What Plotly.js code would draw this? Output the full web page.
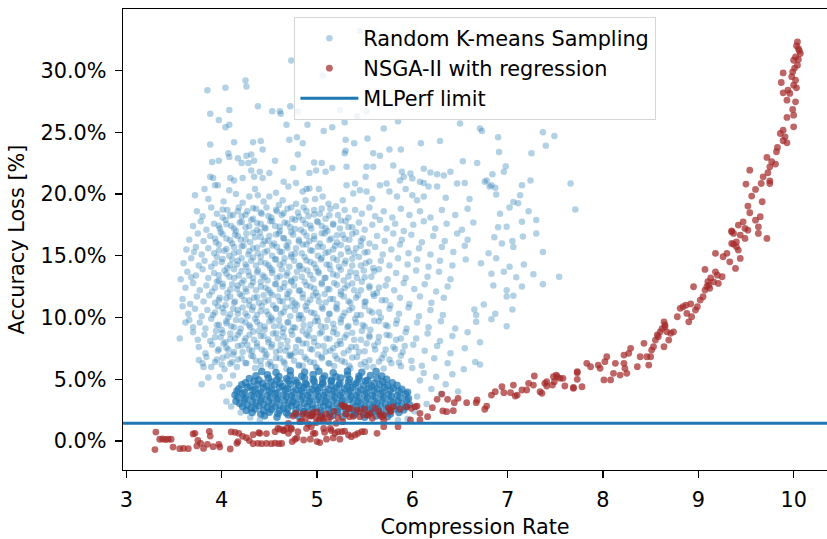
<!DOCTYPE html>
<html><head><meta charset="utf-8">
<script src="https://cdn.plot.ly/plotly-3.0.1.min.js"></script>
<style>html,body{margin:0;padding:0;background:#fff}#chart{width:827px;height:539px}</style>
</head><body><div id="chart"></div>
<script>
// Random K-means Sampling: sparse upper part (y >= ~19)
const kmeansUpper = [
[4.73,30.8],[5.45,33.2],[5.06,29.6],[4.25,29.2],[4.26,28.7],[4.04,28.6],[3.85,28.4],[5.38,27.7],[4.38,27.1],[4.72,27.1],
[4.08,26.8],[5.24,26.8],[4.53,26.7],[5.52,26.7],[4.61,26.7],[4.80,26.65],[4.62,26.5],[3.88,26.5],[5.42,26.3],[3.97,26.0],
[5.85,25.9],[5.29,25.8],[6.50,25.7],[4.04,25.4],[4.08,25.6],[4.68,25.6],[4.90,25.6],[6.71,25.3],[5.70,25.3],[5.07,25.1],
[5.16,25.4],[6.73,25.1],[7.37,25.0],[7.49,24.7],[6.90,24.6],[4.79,24.6],[5.53,24.5],[4.71,24.4],[5.30,24.4],[6.29,24.3],
[4.41,24.3],[4.13,24.2],[4.33,24.2],[4.85,24.1],[5.39,24.1],[6.09,24.1],[3.88,24.0],[7.40,23.9],[4.43,23.6],[5.88,23.6],
[5.76,23.6],[5.30,23.5],[6.91,23.4],[5.29,23.3],[7.25,23.3],[4.07,23.3],[5.59,23.3],[4.80,23.2],[4.31,23.2],[5.66,23.1],
[4.26,23.1],[4.08,23.0],[4.17,22.9],[4.34,22.7],[4.56,22.7],[3.97,22.7],[6.53,22.65],[3.90,22.6],[4.97,22.55],[6.68,22.5],
[4.28,22.5],[4.21,22.5],[5.05,22.5],[5.80,22.3],[6.98,22.25],[5.31,22.2],[5.52,22.2],[5.59,22.2],[4.75,22.1],[5.16,22.1],
[6.12,22.05],[4.99,21.9],[4.31,21.9],[5.89,21.8],[6.96,21.8],[5.09,21.8],[4.40,21.8],[6.40,21.8],[6.19,21.75],[4.92,21.7],
[4.50,21.7],[5.98,21.65],[6.84,21.6],[6.26,21.6],[6.33,21.5],[5.51,21.4],[3.88,21.4],[4.34,21.4],[5.91,21.4],[3.91,21.3],
[4.09,21.3],[4.22,21.3],[4.43,21.3],[6.00,21.25],[4.13,21.1],[5.87,21.1],[6.78,21.1],[7.24,21.1],[4.65,21.0],[6.08,21.0],
[6.76,21.0],[4.78,20.9],[6.55,20.9],[7.66,20.85],[6.47,20.85],[7.15,20.7],[6.81,20.6],[4.89,20.4],[7.71,18.75],
[3.72,19.9],[3.82,20.4],[3.93,20.7],[3.96,20.7],[4.15,20.0],[4.29,19.8],[4.38,19.9],[4.50,19.8],[4.64,19.5],[4.78,19.2],
[4.85,20.2],[4.92,20.45],[5.06,19.8],[5.12,19.2],[5.20,19.0],[5.27,19.5],[5.38,20.05],[5.31,20.7],[5.40,20.85],[5.45,20.3],
[5.52,20.2],[5.66,20.7],[5.73,20.85],[5.76,20.2],[5.84,19.8],[6.00,19.9],[6.05,19.5],[6.12,19.8],[6.12,20.9],[6.17,20.6],
[6.26,20.6],[6.83,20.7],[6.87,20.5],[6.88,19.95],[7.13,19.9],[7.06,19.35],[7.11,19.25],[3.86,19.6],[4.02,19.4],[4.08,20.3],
[4.22,19.3],[4.35,20.4],[4.44,19.4],[4.57,20.1],[4.70,20.6],[4.98,19.6],[5.02,20.4],[5.58,19.6],[5.93,20.4],[6.35,19.7],
[6.60,19.6],[4.60,19.1],[4.88,19.5]
];
// Random K-means Sampling: middle part (y ~10 to 19)
const kmeansMid = [
[3.74,18.6],[3.80,18.2],[3.89,18.9],[3.95,18.4],[4.01,18.1],[4.06,18.7],[4.12,18.3],[4.18,18.9],[4.21,18.2],[4.27,18.6],
[4.33,18.0],[4.36,18.8],[4.42,18.4],[4.47,18.9],[4.52,18.1],[4.58,18.6],[4.63,18.3],[4.69,18.8],[4.74,18.0],[4.80,18.5],
[4.86,18.9],[4.91,18.2],[4.97,18.7],[5.03,18.4],[5.09,18.0],[5.14,18.8],[5.22,18.3],[5.29,18.7],[5.33,18.1],[5.40,18.7],
[5.47,18.4],[5.55,18.9],[5.61,18.2],[5.70,18.6],[5.79,18.1],[5.88,18.8],[5.97,18.3],[6.08,18.6],[6.19,18.1],[6.31,18.7],
[6.45,18.3],[6.58,18.8],[6.92,18.4],[7.02,18.9],[7.22,18.6],[7.30,17.9],
[3.70,17.4],[3.78,17.8],[3.84,17.1],[3.92,17.6],[3.98,17.2],[4.04,17.9],[4.10,17.4],[4.15,17.0],[4.19,17.7],[4.25,17.3],
[4.31,17.9],[4.37,17.1],[4.41,17.6],[4.46,17.2],[4.51,17.8],[4.56,17.4],[4.61,17.0],[4.66,17.7],[4.72,17.3],[4.77,17.9],
[4.83,17.1],[4.88,17.6],[4.94,17.2],[5.00,17.8],[5.05,17.4],[5.11,17.0],[5.17,17.6],[5.24,17.2],[5.30,17.8],[5.37,17.3],
[5.44,17.7],[5.50,17.1],[5.58,17.5],[5.66,17.9],[5.73,17.2],[5.82,17.6],[5.91,17.0],[6.01,17.5],[6.12,17.8],[6.24,17.2],
[6.36,17.6],[6.52,17.1],[6.64,17.7],[6.90,17.3],[7.15,17.75],[6.99,17.35],
[3.66,16.3],[3.75,16.8],[3.81,16.2],[3.88,16.6],[3.94,16.1],[3.99,16.9],[4.05,16.4],[4.11,16.0],[4.14,16.7],[4.20,16.3],
[4.26,16.8],[4.30,16.1],[4.35,16.5],[4.40,16.9],[4.45,16.2],[4.50,16.6],[4.55,16.0],[4.60,16.8],[4.65,16.4],[4.70,16.1],
[4.75,16.7],[4.81,16.3],[4.86,16.9],[4.92,16.2],[4.97,16.6],[5.03,16.0],[5.08,16.8],[5.15,16.4],[5.21,16.1],[5.27,16.7],
[5.34,16.3],[5.41,16.9],[5.48,16.4],[5.55,16.0],[5.63,16.6],[5.71,16.2],[5.80,16.8],[5.89,16.3],[5.99,16.7],[6.10,16.1],
[6.22,16.6],[6.34,16.2],[6.47,16.8],[6.58,16.3],[6.86,16.5],[7.16,16.55],[7.30,16.8],[7.05,16.2],
[3.63,15.5],[3.71,15.3],[3.73,15.7],[3.79,15.1],[3.86,15.6],[3.92,15.2],[3.97,15.9],[4.03,15.4],[4.08,15.0],[4.13,15.7],
[4.18,15.3],[4.23,15.8],[4.28,15.1],[4.33,15.6],[4.38,15.2],[4.43,15.9],[4.48,15.4],[4.53,15.0],[4.58,15.7],[4.63,15.3],
[4.68,15.8],[4.73,15.1],[4.78,15.6],[4.84,15.2],[4.89,15.9],[4.95,15.4],[5.01,15.0],[5.06,15.7],[5.12,15.3],[5.19,15.8],
[5.25,15.1],[5.32,15.6],[5.39,15.2],[5.46,15.8],[5.53,15.3],[5.61,15.7],[5.69,15.1],[5.78,15.5],[5.87,15.9],[5.96,15.2],
[6.07,15.6],[6.19,15.1],[6.31,15.7],[6.43,15.3],[6.55,15.8],[6.94,16.0],[7.06,15.7],[7.37,15.3],[6.80,15.2],
[3.60,14.4],[3.68,14.8],[3.76,14.2],[3.82,14.6],[3.89,14.1],[3.95,14.9],[4.00,14.5],[4.06,14.0],[4.11,14.7],[4.16,14.3],
[4.21,14.8],[4.26,14.1],[4.31,14.6],[4.36,14.2],[4.41,14.9],[4.46,14.4],[4.51,14.0],[4.56,14.7],[4.61,14.3],[4.66,14.8],
[4.71,14.1],[4.76,14.6],[4.82,14.2],[4.87,14.9],[4.93,14.5],[4.99,14.0],[5.04,14.7],[5.10,14.3],[5.17,14.8],[5.23,14.1],
[5.30,14.6],[5.37,14.2],[5.44,14.9],[5.51,14.4],[5.59,14.0],[5.67,14.6],[5.76,14.2],[5.85,14.8],[5.95,14.3],[6.05,14.7],
[6.17,14.1],[6.29,14.6],[6.42,14.2],[6.56,14.7],[6.72,14.4],[6.88,14.8],[7.17,14.3],[7.02,14.1],
[3.57,13.1],[3.68,13.25],[3.64,13.7],[3.73,13.4],[3.80,13.9],[3.86,13.2],[3.92,13.6],[3.97,13.0],[4.03,13.8],[4.08,13.3],
[4.13,13.9],[4.18,13.4],[4.23,13.0],[4.28,13.7],[4.33,13.2],[4.38,13.8],[4.43,13.4],[4.48,13.0],[4.53,13.6],[4.58,13.2],
[4.63,13.9],[4.68,13.4],[4.73,13.0],[4.79,13.7],[4.84,13.3],[4.90,13.8],[4.96,13.1],[5.02,13.6],[5.08,13.2],[5.14,13.9],
[5.21,13.4],[5.28,13.0],[5.35,13.7],[5.42,13.2],[5.49,13.8],[5.57,13.3],[5.65,13.9],[5.74,13.1],[5.83,13.6],[5.93,13.2],
[6.04,13.8],[6.16,13.3],[6.28,13.7],[6.40,13.1],[6.96,13.7],[6.83,13.55],[7.09,13.25],[7.27,13.5],[7.54,13.3],
[3.62,12.4],[3.70,12.8],[3.77,12.2],[3.84,12.6],[3.90,12.1],[3.95,12.9],[4.01,12.5],[4.06,12.0],[4.11,12.7],[4.16,12.3],
[4.21,12.8],[4.26,12.1],[4.31,12.6],[4.36,12.2],[4.41,12.9],[4.46,12.4],[4.51,12.0],[4.56,12.7],[4.61,12.3],[4.66,12.8],
[4.71,12.1],[4.76,12.6],[4.82,12.2],[4.87,12.9],[4.93,12.5],[4.99,12.0],[5.05,12.7],[5.11,12.3],[5.18,12.8],[5.25,12.1],
[5.32,12.6],[5.39,12.2],[5.47,12.9],[5.55,12.4],[5.63,12.0],[5.72,12.6],[5.81,12.2],[5.91,12.8],[6.02,12.3],[6.13,12.7],
[6.25,12.1],[6.37,12.5],[6.85,12.6],[7.15,12.5],[7.37,12.7],[6.99,12.2],
[3.59,11.5],[3.67,11.1],[3.74,11.7],[3.81,11.3],[3.87,11.8],[3.93,11.2],[3.98,11.6],[4.04,11.0],[4.09,11.7],[4.14,11.3],
[4.19,11.9],[4.24,11.4],[4.29,11.0],[4.34,11.6],[4.39,11.2],[4.44,11.8],[4.49,11.4],[4.54,11.0],[4.59,11.7],[4.64,11.3],
[4.69,11.9],[4.74,11.4],[4.79,11.0],[4.85,11.6],[4.90,11.2],[4.96,11.8],[5.02,11.3],[5.08,11.9],[5.14,11.5],[5.21,11.1],
[5.28,11.7],[5.35,11.2],[5.43,11.8],[5.51,11.3],[5.59,11.9],[5.68,11.4],[5.77,11.0],[5.87,11.6],[5.97,11.1],[6.08,11.7],
[6.20,11.2],[6.33,11.6],[6.99,11.7],[7.06,11.75],[6.75,11.05],
[3.59,10.9],[3.65,10.3],[3.72,10.7],[3.79,10.1],[3.85,10.6],[3.91,10.2],[3.96,10.9],[4.02,10.4],[4.07,10.0],[4.12,10.7],
[4.17,10.3],[4.22,10.8],[4.27,10.1],[4.32,10.6],[4.37,10.2],[4.42,10.9],[4.47,10.5],[4.52,10.0],[4.57,10.7],[4.62,10.3],
[4.67,10.8],[4.72,10.1],[4.77,10.6],[4.83,10.2],[4.88,10.9],[4.94,10.4],[5.00,10.0],[5.06,10.7],[5.13,10.3],[5.20,10.8],
[5.27,10.1],[5.34,10.6],[5.42,10.2],[5.50,10.9],[5.58,10.4],[5.67,10.0],[5.76,10.7],[5.86,10.3],[5.96,10.8],[6.07,10.1],
[6.19,10.6],[6.32,10.2],[6.65,10.65],[6.67,10.2],[6.87,10.3],[7.05,10.65]
];
// Random K-means Sampling: extra points in the denser centre of the cloud (y ~6 to 19)
const kmeansDense = [
[3.93,6.40],[4.01,6.74],[4.09,6.26],[4.17,6.60],[4.25,6.32],[4.33,6.86],[4.41,6.50],[4.49,6.22],[4.57,6.72],[4.65,6.44],[4.73,6.90],[4.81,6.16],[4.89,6.62],[4.97,6.34],[5.05,6.82],[5.13,6.28],[5.21,6.66],[5.29,6.38],[5.37,6.76],[5.46,6.20],[5.55,6.54],[5.65,6.42],[5.76,6.60],[5.86,6.35],
[3.97,7.42],[4.05,7.54],[4.13,7.20],[4.21,7.76],[4.29,7.38],[4.37,7.66],[4.45,7.28],[4.53,7.82],[4.61,7.34],[4.69,7.62],[4.77,7.16],[4.85,7.90],[4.93,7.44],[5.01,7.72],[5.09,7.22],[5.17,7.50],[5.25,7.86],[5.33,7.32],[5.41,7.60],[5.50,7.26],[5.60,7.74],[5.72,7.40],[5.82,7.45],[5.92,7.70],
[3.93,8.40],[4.01,8.74],[4.09,8.26],[4.17,8.60],[4.25,8.32],[4.33,8.86],[4.41,8.50],[4.49,8.22],[4.57,8.72],[4.65,8.44],[4.73,8.90],[4.81,8.16],[4.89,8.62],[4.97,8.34],[5.05,8.82],[5.13,8.28],[5.21,8.66],[5.29,8.38],[5.37,8.76],[5.46,8.20],[5.55,8.54],[5.65,8.42],[5.76,8.55],[5.88,8.30],
[3.97,9.42],[4.05,9.54],[4.13,9.20],[4.21,9.76],[4.29,9.38],[4.37,9.66],[4.45,9.28],[4.53,9.82],[4.61,9.34],[4.69,9.62],[4.77,9.16],[4.85,9.90],[4.93,9.44],[5.01,9.72],[5.09,9.22],[5.17,9.50],[5.25,9.86],[5.33,9.32],[5.41,9.60],[5.50,9.26],[5.60,9.74],[5.72,9.40],[5.83,9.50],
[3.93,10.40],[4.01,10.74],[4.09,10.26],[4.17,10.60],[4.25,10.32],[4.33,10.86],[4.41,10.50],[4.49,10.22],[4.57,10.72],[4.65,10.44],[4.73,10.90],[4.81,10.16],[4.89,10.62],[4.97,10.34],[5.05,10.82],[5.13,10.28],[5.21,10.66],[5.29,10.38],[5.37,10.76],[5.46,10.20],[5.55,10.54],[5.65,10.42],
[3.97,11.42],[4.05,11.54],[4.13,11.20],[4.21,11.76],[4.29,11.38],[4.37,11.66],[4.45,11.28],[4.53,11.82],[4.61,11.34],[4.69,11.62],[4.77,11.16],[4.85,11.90],[4.93,11.44],[5.01,11.72],[5.09,11.22],[5.17,11.50],[5.25,11.86],[5.33,11.32],[5.41,11.60],[5.50,11.26],[5.60,11.74],[5.72,11.40],
[3.93,12.40],[4.01,12.74],[4.09,12.26],[4.17,12.60],[4.25,12.32],[4.33,12.86],[4.41,12.50],[4.49,12.22],[4.57,12.72],[4.65,12.44],[4.73,12.90],[4.81,12.16],[4.89,12.62],[4.97,12.34],[5.05,12.82],[5.13,12.28],[5.21,12.66],[5.29,12.38],[5.37,12.76],[5.46,12.20],[5.55,12.54],[5.65,12.42],
[3.97,13.42],[4.05,13.54],[4.13,13.20],[4.21,13.76],[4.29,13.38],[4.37,13.66],[4.45,13.28],[4.53,13.82],[4.61,13.34],[4.69,13.62],[4.77,13.16],[4.85,13.90],[4.93,13.44],[5.01,13.72],[5.09,13.22],[5.17,13.50],[5.25,13.86],[5.33,13.32],[5.41,13.60],[5.50,13.26],[5.60,13.74],
[3.93,14.40],[4.01,14.74],[4.09,14.26],[4.17,14.60],[4.25,14.32],[4.33,14.86],[4.41,14.50],[4.49,14.22],[4.57,14.72],[4.65,14.44],[4.73,14.90],[4.81,14.16],[4.89,14.62],[4.97,14.34],[5.05,14.82],[5.13,14.28],[5.21,14.66],[5.29,14.38],[5.37,14.76],[5.46,14.20],[5.55,14.54],
[3.97,15.42],[4.05,15.54],[4.13,15.20],[4.21,15.76],[4.29,15.38],[4.37,15.66],[4.45,15.28],[4.53,15.82],[4.61,15.34],[4.69,15.62],[4.77,15.16],[4.85,15.90],[4.93,15.44],[5.01,15.72],[5.09,15.22],[5.17,15.50],[5.25,15.86],[5.33,15.32],[5.41,15.60],[5.50,15.26],
[3.93,16.40],[4.01,16.74],[4.09,16.26],[4.17,16.60],[4.25,16.32],[4.33,16.86],[4.41,16.50],[4.49,16.22],[4.57,16.72],[4.65,16.44],[4.73,16.90],[4.81,16.16],[4.89,16.62],[4.97,16.34],[5.05,16.82],[5.13,16.28],[5.21,16.66],[5.29,16.38],[5.37,16.76],[5.46,16.20],
[3.97,17.42],[4.05,17.54],[4.13,17.20],[4.21,17.76],[4.29,17.38],[4.37,17.66],[4.45,17.28],[4.53,17.82],[4.61,17.34],[4.69,17.62],[4.77,17.16],[4.85,17.90],[4.93,17.44],[5.01,17.72],[5.09,17.22],[5.17,17.50],[5.25,17.86],[5.33,17.32],
[4.01,18.74],[4.09,18.26],[4.17,18.60],[4.25,18.32],[4.33,18.86],[4.41,18.50],[4.49,18.22],[4.57,18.72],[4.65,18.44],[4.73,18.90],[4.81,18.16],[4.89,18.62],[4.97,18.34],[5.05,18.82],[5.13,18.28]
];
// Random K-means Sampling: lower part (y ~1.7 to 10), outside the dense core
const kmeansLow = [
[3.66,9.8],[3.70,9.2],[3.77,9.6],[3.83,9.1],[3.89,9.9],[3.95,9.4],[4.00,9.0],[4.05,9.7],[4.10,9.3],[4.15,9.8],
[4.20,9.1],[4.25,9.6],[4.30,9.2],[4.35,9.9],[4.40,9.4],[4.45,9.0],[4.50,9.7],[4.55,9.3],[4.60,9.8],[4.65,9.1],
[4.70,9.6],[4.75,9.2],[4.81,9.9],[4.86,9.4],[4.92,9.0],[4.98,9.7],[5.04,9.3],[5.11,9.8],[5.18,9.1],[5.25,9.6],
[5.32,9.2],[5.40,9.9],[5.48,9.4],[5.56,9.0],[5.65,9.7],[5.74,9.3],[5.84,9.8],[5.94,9.1],[6.05,9.6],[6.17,9.2],
[6.30,9.7],[6.67,9.65],[6.83,9.85],[6.99,9.3],[6.45,9.1],
[3.56,8.3],[3.70,8.8],[3.75,8.2],[3.82,8.6],[3.88,8.1],[3.94,8.9],[3.99,8.4],[4.04,8.0],[4.09,8.7],[4.14,8.3],
[4.19,8.8],[4.24,8.1],[4.29,8.6],[4.34,8.2],[4.39,8.9],[4.44,8.5],[4.49,8.0],[4.54,8.7],[4.59,8.3],[4.64,8.8],
[4.69,8.1],[4.74,8.6],[4.80,8.2],[4.85,8.9],[4.91,8.5],[4.97,8.0],[5.03,8.7],[5.10,8.3],[5.17,8.8],[5.24,8.1],
[5.31,8.6],[5.39,8.2],[5.47,8.9],[5.55,8.4],[5.64,8.0],[5.73,8.6],[5.83,8.2],[5.93,8.8],[6.04,8.3],[6.16,8.7],
[6.29,8.1],[6.42,8.5],[6.58,8.8],[6.71,8.0],
[3.76,7.6],[3.83,7.1],[3.90,7.8],[3.96,7.3],[4.02,7.9],[4.07,7.4],[4.12,7.0],[4.17,7.7],[4.22,7.2],[4.27,7.8],
[4.32,7.3],[4.37,7.9],[4.42,7.4],[4.47,7.0],[4.52,7.6],[4.57,7.2],[4.62,7.8],[4.67,7.3],[4.72,7.0],[4.78,7.6],
[4.83,7.2],[4.89,7.9],[4.95,7.4],[5.01,7.0],[5.07,7.7],[5.14,7.3],[5.21,7.8],[5.28,7.1],[5.36,7.6],[5.44,7.2],
[5.52,7.9],[5.61,7.4],[5.70,7.0],[5.80,7.6],[5.90,7.2],[6.01,7.8],[6.13,7.3],[6.26,7.7],[6.40,7.1],[6.55,7.5],
[3.76,6.55],[3.84,6.8],[3.80,6.3],[3.89,6.0],[3.95,6.6],[4.00,6.2],[4.06,6.9],[4.11,6.4],[4.16,6.0],[4.21,6.7],
[4.26,6.3],[4.31,6.9],[4.36,6.5],[4.41,6.1],[4.46,6.8],[4.51,6.4],[4.56,6.0],[4.61,6.7],[4.66,6.3],[4.71,6.9],
[4.76,6.5],[4.81,6.1],[4.87,6.8],[4.93,6.4],[4.99,6.0],[5.05,6.7],[5.12,6.3],[5.19,6.9],[5.26,6.5],[5.34,6.1],
[5.42,6.8],[5.50,6.4],[5.59,6.0],[5.68,6.7],[5.78,6.3],[5.88,6.9],[5.99,6.5],[6.10,6.1],[6.23,6.7],[6.37,6.3],
[6.54,5.8],[6.66,6.4],[6.71,6.2],
[3.79,4.6],[3.81,6.0],[3.86,5.15],[3.98,5.2],[4.01,4.4],[3.62,9.6],[4.05,3.2],[4.08,4.6],[4.10,2.8],[4.12,5.3],
[4.03,5.8],[6.02,2.4],[6.05,3.6],[6.08,4.9],[6.12,5.5],[6.15,3.0],[6.20,4.2],[6.00,5.9],[6.25,5.2],[4.30,1.9],
[4.40,1.7],[5.95,1.8],[5.85,1.7],[4.20,2.3],[6.30,3.8],[6.35,4.6],[6.42,5.4],[6.48,4.0],
[4.35,5.90],[4.52,6.05],[4.68,5.85],[4.85,6.10],[5.00,5.92],[5.18,6.08],[5.35,5.88],[5.52,6.02],[5.70,5.86],[5.88,6.05]
];
// Random K-means Sampling: dense core
const kmeansCore = [
[4.45,2.05],[4.58,1.93],[4.70,2.10],[4.81,1.98],[4.93,2.07],[5.04,1.90],[5.16,2.04],[5.27,1.96],[5.39,2.11],[5.50,1.92],[5.62,2.03],[5.74,1.97],
[4.32,2.30],[4.41,2.18],[4.50,2.33],[4.59,2.21],[4.68,2.27],[4.77,2.16],[4.86,2.35],[4.95,2.22],[5.04,2.29],[5.13,2.17],[5.22,2.34],[5.31,2.20],[5.40,2.28],[5.49,2.15],[5.58,2.32],[5.67,2.24],[5.77,2.19],[5.86,2.31],
[4.26,2.47],[4.35,2.58],[4.44,2.42],[4.52,2.55],[4.61,2.44],[4.69,2.60],[4.78,2.49],[4.87,2.41],[4.95,2.57],[5.04,2.46],[5.12,2.59],[5.21,2.43],[5.30,2.54],[5.38,2.48],[5.47,2.61],[5.55,2.40],[5.64,2.53],[5.73,2.45],[5.82,2.58],[5.91,2.50],
[4.22,2.80],[4.31,2.68],[4.39,2.83],[4.48,2.71],[4.56,2.78],[4.65,2.66],[4.73,2.85],[4.82,2.72],[4.90,2.79],[4.99,2.67],[5.07,2.84],[5.16,2.70],[5.24,2.77],[5.33,2.65],[5.41,2.82],[5.50,2.74],[5.58,2.69],[5.67,2.81],[5.75,2.73],[5.84,2.86],[5.93,2.76],
[4.19,3.04],[4.27,2.92],[4.36,3.08],[4.44,2.95],[4.53,3.02],[4.61,2.90],[4.70,3.10],[4.78,2.97],[4.87,3.05],[4.95,2.93],[5.04,3.09],[5.12,2.96],[5.21,3.03],[5.29,2.91],[5.38,3.07],[5.46,2.99],[5.55,2.94],[5.63,3.06],[5.72,2.98],[5.80,3.11],[5.89,3.01],[5.97,2.93],
[4.15,3.22],[4.24,3.33],[4.32,3.18],[4.41,3.30],[4.49,3.20],[4.58,3.35],[4.66,3.24],[4.75,3.16],[4.83,3.32],[4.92,3.21],[5.00,3.34],[5.09,3.19],[5.17,3.28],[5.26,3.23],[5.34,3.36],[5.43,3.17],[5.51,3.29],[5.60,3.20],[5.68,3.33],[5.77,3.26],[5.85,3.19],[5.94,3.31],
[4.17,3.55],[4.25,3.43],[4.34,3.58],[4.42,3.46],[4.51,3.53],[4.59,3.41],[4.68,3.60],[4.76,3.48],[4.85,3.56],[4.93,3.44],[5.02,3.59],[5.10,3.47],[5.19,3.54],[5.27,3.42],[5.36,3.57],[5.44,3.50],[5.53,3.45],[5.61,3.58],[5.70,3.49],[5.78,3.61],[5.87,3.52],[5.96,3.44],
[4.14,3.72],[4.22,3.83],[4.31,3.68],[4.39,3.80],[4.48,3.70],[4.56,3.85],[4.65,3.74],[4.73,3.66],[4.82,3.82],[4.90,3.71],[4.99,3.84],[5.07,3.69],[5.16,3.78],[5.24,3.73],[5.33,3.86],[5.41,3.67],[5.50,3.79],[5.58,3.70],[5.67,3.83],[5.75,3.76],[5.84,3.69],[5.93,3.81],
[4.16,4.05],[4.24,3.93],[4.33,4.08],[4.41,3.96],[4.50,4.03],[4.58,3.91],[4.67,4.10],[4.75,3.98],[4.84,4.06],[4.92,3.94],[5.01,4.09],[5.09,3.97],[5.18,4.04],[5.26,3.92],[5.35,4.07],[5.43,4.00],[5.52,3.95],[5.60,4.08],[5.69,3.99],[5.77,4.11],[5.86,4.02],[5.95,3.94],
[4.18,4.22],[4.27,4.33],[4.35,4.18],[4.44,4.30],[4.52,4.20],[4.61,4.35],[4.69,4.24],[4.78,4.16],[4.86,4.32],[4.95,4.21],[5.03,4.34],[5.12,4.19],[5.20,4.28],[5.29,4.23],[5.37,4.36],[5.46,4.17],[5.54,4.29],[5.63,4.20],[5.71,4.33],[5.80,4.26],[5.89,4.19],
[4.21,4.55],[4.30,4.43],[4.38,4.58],[4.47,4.46],[4.55,4.53],[4.64,4.41],[4.72,4.60],[4.81,4.48],[4.89,4.56],[4.98,4.44],[5.06,4.59],[5.15,4.47],[5.23,4.54],[5.32,4.42],[5.40,4.57],[5.49,4.50],[5.57,4.45],[5.66,4.58],[5.74,4.49],[5.84,4.52],
[4.25,4.72],[4.34,4.83],[4.43,4.68],[4.52,4.80],[4.61,4.70],[4.70,4.85],[4.79,4.74],[4.88,4.66],[4.97,4.82],[5.06,4.71],[5.15,4.84],[5.24,4.69],[5.33,4.78],[5.42,4.73],[5.51,4.86],[5.60,4.67],[5.69,4.79],[5.79,4.72],
[4.29,5.05],[4.39,4.93],[4.49,5.08],[4.58,4.96],[4.68,5.03],[4.77,4.91],[4.87,5.10],[4.96,4.98],[5.06,5.06],[5.15,4.94],[5.25,5.09],[5.34,4.97],[5.44,5.04],[5.53,4.92],[5.63,5.07],[5.73,5.00],
[4.36,5.28],[4.48,5.36],[4.60,5.22],[4.72,5.33],[4.84,5.25],[4.96,5.38],[5.08,5.27],[5.20,5.21],[5.32,5.35],[5.44,5.24],[5.56,5.31],[5.68,5.26],
[4.42,5.62],[4.57,5.55],[4.72,5.68],[4.87,5.58],[5.02,5.65],[5.17,5.52],[5.32,5.66],[5.47,5.57],[5.62,5.63]
];
// NSGA-II with regression
const nsgaLow = [
[3.31,0.72],[3.30,-0.70],[3.35,0.14],[3.38,0.16],[3.41,0.12],[3.44,0.15],[3.47,0.14],[3.49,-0.49],[3.56,-0.62],[3.60,-0.60],
[3.65,-0.62],[3.70,0.57],[3.72,0.62],[3.74,-0.40],[3.75,0.05],[3.78,-0.19],[3.81,-0.60],[3.85,-0.27],[3.87,0.78],[3.88,0.40],
[3.91,-0.46],[3.97,-0.27],[3.98,-0.49],[4.09,-0.65],[4.10,0.73],[4.14,0.70],[4.18,0.62],[4.22,0.38],[4.26,0.27],[4.16,-0.19],
[4.17,-0.05],[4.29,0.03],[4.33,0.51],[4.39,0.67],[4.47,0.60],[4.40,0.62],[4.33,-0.22],[4.38,-0.19],[4.42,-0.22],[4.47,-0.20],
[4.52,-0.22],[4.56,-0.18],[4.60,-0.22],[4.63,-0.20],[4.56,0.75],[4.59,1.02],[4.65,0.83],[4.68,1.02],[4.61,0.95],[4.70,0.62],
[4.73,1.03],[4.74,-0.05],[4.77,0.14],[4.79,0.25],[4.86,0.08],[4.93,0.15],[4.96,0.62],[5.00,-0.05],[5.03,-0.13],[5.07,1.02],
[5.14,1.02],[5.19,0.62],[5.10,0.15],[5.17,0.25],[5.24,0.15],[5.22,0.75],[5.26,0.75],[5.33,0.49],[5.36,0.35],[5.43,0.62],
[5.47,0.75],[5.50,0.75],[5.63,0.62],[5.40,0.49],[5.70,1.16],[5.85,1.16],
[4.70,1.43],[4.82,1.56],[4.91,1.38],[4.99,1.48],[5.06,1.75],[5.12,1.59],[5.20,1.43],[5.27,1.56],[5.34,1.97],[4.65,0.89],
[4.73,0.95],[4.80,0.75],[4.89,1.02],[4.94,1.16],[4.98,0.62],[5.08,0.70],[5.15,0.85],[5.29,0.80],
[4.75,2.02],[4.78,2.25],[4.85,2.18],[4.89,2.24],[4.94,2.02],[4.95,2.10],[4.99,1.92],[5.05,2.02],[5.07,1.84],[5.14,1.97],
[5.26,2.91],[5.29,2.78],[5.28,2.83],[5.33,2.64],[5.35,2.64],[5.42,2.51],[5.45,2.37],[5.50,2.57],[5.56,2.24],[5.61,2.65],
[5.65,2.37],[5.70,2.10],[5.75,2.65],[5.80,2.78],[5.87,2.57],[5.94,2.78],[5.99,2.65],[6.05,2.83],[6.08,2.24],[6.16,1.97],
[5.98,1.70],[6.08,1.70],[5.45,1.97],[5.52,2.10],[5.58,1.84],[5.68,1.97],[5.77,2.37],[5.54,2.10],[5.66,2.10],[5.70,1.70],
[5.77,2.51],[6.03,2.78],[4.88,1.85],[4.96,2.30],[5.02,1.70],[5.10,2.20],[5.18,2.40],[5.22,1.90],[5.30,2.20],[5.38,2.00],
[4.84,1.60],[5.00,2.35]
];
const nsgaMid = [
[6.21,2.70],[6.26,3.37],[6.31,3.80],[6.32,2.43],[6.36,2.37],[6.37,3.37],[6.43,2.45],[6.44,3.10],[6.48,3.45],[6.57,3.10],
[6.68,3.32],[6.67,3.10],[6.76,2.57],[6.78,2.83],[6.83,3.72],[6.87,3.99],[6.94,4.39],[6.96,3.91],[7.03,3.91],[7.06,4.53],
[7.08,3.64],[7.10,3.72],[7.15,4.13],[7.20,4.13],[7.22,4.67],[7.27,4.53],[7.28,5.26],[7.34,3.99],[7.36,3.86],[7.39,4.67],
[7.41,4.45],[7.41,4.80],[7.47,4.53],[7.48,5.20],[7.51,5.34],[7.52,5.20],[7.55,5.07],[7.58,5.07],[7.60,4.45],[7.69,4.34],
[7.69,4.26],[7.73,5.61],[7.73,4.99],[7.73,5.53],[7.78,4.39],[7.49,4.80]
];
const nsgaHigh = [
[7.83,6.29],[7.87,6.01],[7.95,6.15],[7.97,5.88],[8.02,6.42],[8.04,6.82],[8.01,4.94],[8.08,4.94],[8.11,5.48],[8.18,5.34],
[8.13,6.29],[8.22,6.29],[8.25,5.48],[8.23,5.88],[8.29,7.50],[8.27,7.10],[8.22,6.96],[8.36,6.01],[8.39,6.82],[8.43,7.91],
[8.46,6.82],[8.50,6.82],[8.51,7.36],[8.48,6.15],[8.53,7.63],[8.55,8.17],[8.57,8.58],[8.60,8.84],[8.64,9.65],[8.65,9.25],
[8.67,8.84],[8.71,8.72],[8.74,8.84],[8.69,8.17],[8.64,7.63],[8.58,8.45],[8.78,10.06],[8.81,10.74],[8.84,10.87],[8.88,10.33],
[8.90,9.65],[8.93,10.06],[8.97,10.60],[8.99,10.87],[9.02,11.41],[9.05,11.68],[9.07,12.22],[9.11,12.62],[9.12,12.36],[9.16,12.89],
[9.18,13.70],[9.20,13.43],[9.25,13.30],[9.21,12.76],[8.95,12.49],[9.07,13.89],[9.18,15.19],[9.26,14.92],[9.30,15.19],[9.33,14.51],
[9.39,13.97],[9.35,16.94],[9.37,16.81],[9.40,16.13],[9.42,17.48],[9.42,15.46],[9.44,14.78],[9.35,16.00],[9.10,12.90],[9.13,13.20],
[9.09,12.50],[8.87,11.00],[8.92,11.10],[8.62,9.10],[8.65,9.40],
[10.04,32.31],[10.05,31.77],[10.07,31.37],[10.02,31.10],[10.00,30.83],[10.04,30.43],[9.99,29.89],[9.89,29.80],[10.02,29.21],[9.87,29.03],
[10.00,28.81],[9.94,28.41],[9.96,28.14],[9.89,28.19],[9.93,27.60],[10.02,27.46],[9.99,26.85],[10.00,26.38],[9.93,26.20],[10.00,25.44],
[9.89,25.17],[9.86,24.90],[9.91,24.63],[9.89,24.31],[9.93,24.14],[9.83,23.77],[9.82,23.42],[9.72,22.96],[9.77,22.61],[9.81,22.42],
[9.75,22.20],[9.54,21.93],[9.73,21.72],[9.68,21.39],[9.75,21.07],[9.66,20.85],[9.50,20.80],[9.75,20.85],[9.60,20.37],[9.56,19.83],
[9.67,19.37],[9.52,19.02],[9.54,18.48],[9.65,18.16],[9.60,17.88],[9.47,17.75],[9.49,17.21],[9.52,17.07],[9.63,17.34],[9.35,17.02],
[9.44,16.67],[9.63,16.81],[9.72,16.40],[9.49,16.40],[9.37,15.94],[9.40,15.72],[10.03,32.00],[10.06,31.60],[10.05,30.90],[10.01,30.20],
[9.98,29.50],[10.03,28.60]
];
const mlperfLimit = 1.43;
const xTickVals = [3,4,5,6,7,8,9,10];
const yTickVals = [0,5,10,15,20,25,30];
const yTickText = yTickVals.map(v => v.toFixed(1) + '%');
const xRange = [2.965, 10.35];
const yRange = [-2.35, 34.98];

const px = a => a.map(p => p[0]);
const py = a => a.map(p => p[1]);
const kmeansAll = [].concat(kmeansUpper, kmeansMid, kmeansDense, kmeansLow);
const nsgaAll = [].concat(nsgaLow, nsgaMid, nsgaHigh);
const BLUE = '#1f77b4', RED = '#a52a2a';
const FONT = {family: 'DejaVu Sans, sans-serif', size: 20.8, color: '#000'};

const traces = [
  {type:'scatter', mode:'markers', name:'Random K-means Sampling', legendgroup:'a',
   x: px(kmeansAll), y: py(kmeansAll),
   marker:{color: BLUE, size: 6.5, opacity: 0.34, line:{width:0}}},
  {type:'scatter', mode:'markers', name:'Random K-means Sampling (core)', legendgroup:'a', showlegend:false,
   x: px(kmeansCore), y: py(kmeansCore),
   marker:{color: BLUE, size: 7.5, opacity: 0.72, line:{width:0}}},
  {type:'scatter', mode:'markers', name:'NSGA-II with regression', legendgroup:'b',
   x: px(nsgaAll), y: py(nsgaAll),
   marker:{color: RED, size: 6.8, opacity: 0.72, line:{width:0}}},
  {type:'scatter', mode:'lines', name:'MLPerf limit', legendgroup:'c',
   x: xRange, y: [mlperfLimit, mlperfLimit],
   line:{color: BLUE, width: 3}}
];

const layout = {
  width: 827, height: 539,
  margin: {l:123, r:0, t:9, b:69},
  paper_bgcolor:'#fff', plot_bgcolor:'#fff',
  font: FONT,
  showlegend: true,
  legend: {x:0.243, y:0.983, xanchor:'left', yanchor:'top',
    bgcolor:'rgba(255,255,255,0.8)', bordercolor:'#d6d6d6', borderwidth:1.3,
    font: FONT, traceorder:'grouped', tracegroupgap: 0, itemwidth: 58},
  xaxis: {range: xRange, tickvals: xTickVals, ticks:'outside', ticklen:7, tickwidth:1.3, tickcolor:'#000',
    showline:true, linecolor:'#000', linewidth:1.3, mirror:true, showgrid:false, zeroline:false,
    tickfont: FONT, ticklabelstandoff: 4,
    title:{text:'Compression Rate', font: FONT, standoff: 8}},
  yaxis: {range: yRange, tickvals: yTickVals, ticktext: yTickText, ticks:'outside', ticklen:7, tickwidth:1.3, tickcolor:'#000',
    showline:true, linecolor:'#000', linewidth:1.3, showgrid:false, zeroline:false,
    tickfont: FONT, ticklabelstandoff: 4,
    title:{text:'Accuracy Loss [%]', font: FONT, standoff: 10}}
};
Plotly.newPlot('chart', traces, layout, {staticPlot:true, displayModeBar:false});
</script>
</body></html>
